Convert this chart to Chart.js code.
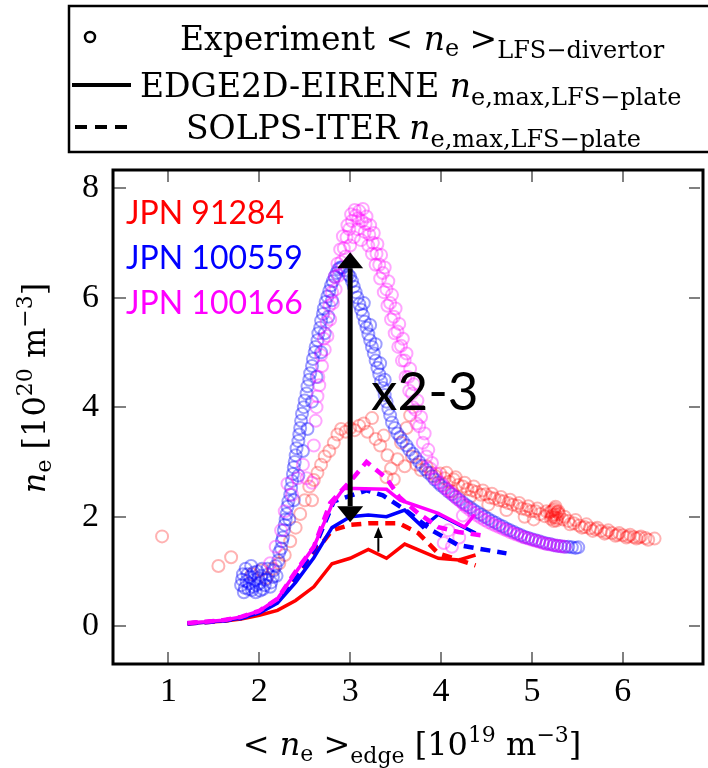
<!DOCTYPE html>
<html>
<head>
<meta charset="utf-8">
<script src="https://cdn.jsdelivr.net/npm/chart.js@4.4.1/dist/chart.umd.min.js"></script>
<style>
  html, body { margin: 0; padding: 0; background: #fff; }
</style>
</head>
<body>
<canvas id="myChart" width="708" height="768"></canvas>
<script>
// axis ticks
const xTicks = [1, 2, 3, 4, 5, 6];
const yTicks = [0, 2, 4, 6, 8];

// EDGE2D-EIRENE peak density at the LFS plate (solid)
const e2d91284X = [1.21, 1.4, 1.6, 1.8, 2.0, 2.2, 2.4, 2.6, 2.8, 3.0, 3.2, 3.4, 3.6, 3.97, 4.2, 4.38];
const e2d91284Y = [0.05, 0.07, 0.09, 0.13, 0.2, 0.29, 0.47, 0.72, 1.14, 1.24, 1.4, 1.24, 1.5, 1.24, 1.21, 1.3];
const e2d100559X = [1.21, 1.4, 1.6, 1.8, 2.0, 2.2, 2.4, 2.6, 2.8, 3.0, 3.2, 3.4, 3.6, 3.8, 3.97, 4.38];
const e2d100559Y = [0.05, 0.07, 0.1, 0.15, 0.24, 0.42, 0.8, 1.25, 1.8, 2.0, 2.03, 2.0, 2.12, 1.81, 2.04, 1.7];
const e2d100166X = [1.21, 1.4, 1.6, 1.8, 2.0, 2.2, 2.4, 2.6, 2.8, 2.93, 3.4, 3.55, 3.97, 4.26, 4.37];
const e2d100166Y = [0.06, 0.08, 0.11, 0.17, 0.28, 0.5, 0.98, 1.45, 2.22, 2.52, 2.5, 2.3, 2.06, 1.81, 2.04];

// SOLPS-ITER peak density at the LFS plate (dashed)
const solps91284X = [1.21, 1.4, 1.6, 1.8, 2.0, 2.2, 2.4, 2.6, 2.8, 3.0, 3.2, 3.54, 3.75, 3.97, 4.38];
const solps91284Y = [0.05, 0.07, 0.1, 0.15, 0.25, 0.45, 0.85, 1.32, 1.75, 1.85, 1.88, 1.88, 1.7, 1.33, 1.11];
const solps100559X = [1.21, 1.4, 1.6, 1.8, 2.0, 2.2, 2.4, 2.6, 2.82, 3.18, 3.36, 3.61, 3.9, 4.19, 4.72];
const solps100559Y = [0.05, 0.07, 0.1, 0.15, 0.26, 0.47, 0.9, 1.4, 2.28, 2.48, 2.39, 2.12, 1.75, 1.48, 1.33];
const solps100166X = [1.21, 1.4, 1.6, 1.8, 2.0, 2.2, 2.4, 2.6, 2.78, 3.04, 3.18, 3.4, 3.54, 3.75, 3.97, 4.19, 4.48];
const solps100166Y = [0.06, 0.08, 0.11, 0.17, 0.28, 0.5, 1.0, 1.45, 2.25, 2.72, 3.0, 2.7, 2.36, 2.06, 1.81, 1.72, 1.65];

// measured <ne> in the LFS divertor, [x, y]
const exp91284 = [
  [0.93, 1.64], [1.55, 1.10], [1.69, 1.26],
  [1.92, 0.95], [2.02, 1.02], [2.08, 0.88], [2.15, 1.05], [2.22, 1.15], [2.28, 1.30],
  [2.34, 1.55], [2.40, 1.80], [2.45, 2.05], [2.50, 2.30], [2.55, 2.55], [2.60, 2.67], [2.58, 2.30],
  [2.64, 2.80], [2.68, 2.95], [2.72, 3.10], [2.77, 3.20], [2.82, 3.35], [2.86, 3.50], [2.90, 3.60],
  [2.95, 3.55], [3.00, 3.62], [3.05, 3.58], [3.10, 3.66], [3.15, 3.70], [3.19, 3.55], [3.24, 3.80],
  [3.28, 3.42], [3.33, 3.30], [3.37, 3.48], [3.41, 3.12], [3.45, 2.88], [3.40, 2.72], [3.48, 2.68],
  [3.52, 3.05], [3.56, 3.35], [3.62, 3.62], [3.66, 3.85], [3.60, 2.92], [3.68, 3.10], [3.73, 2.95],
  [3.78, 2.85], [3.84, 2.92], [3.89, 2.80], [3.94, 2.74], [3.99, 2.79], [4.04, 2.70], [4.09, 2.64],
  [4.14, 2.68], [4.19, 2.58], [4.24, 2.55], [4.29, 2.50], [4.34, 2.48], [4.39, 2.45], [4.44, 2.40],
  [4.49, 2.41], [4.54, 2.35], [4.59, 2.33], [4.64, 2.30], [4.69, 2.28], [4.74, 2.25], [4.79, 2.22],
  [4.84, 2.20], [4.89, 2.15], [4.94, 2.13], [4.99, 2.10], [5.04, 2.10], [5.09, 2.05], [5.14, 2.01],
  [4.12, 2.46], [4.32, 2.36], [4.52, 2.22], [4.72, 2.12], [4.92, 2.00], [5.02, 1.95],
  [4.06, 2.80], [4.16, 2.72], [4.26, 2.62], [4.36, 2.55], [4.46, 2.48], [4.56, 2.42], [4.66, 2.36],
  [4.76, 2.31], [4.86, 2.25], [4.96, 2.19], [5.06, 2.15], [5.16, 2.10],
  [5.20, 2.08], [5.22, 2.00], [5.24, 2.12], [5.26, 2.04], [5.28, 1.97], [5.30, 2.05], [5.25, 2.15],
  [5.27, 1.93], [5.23, 2.03], [5.29, 2.10], [5.21, 1.96], [5.22, 2.10], [5.25, 1.99], [5.28, 2.08],
  [5.26, 2.18], [5.24, 1.92],
  [5.34, 1.95], [5.40, 1.92], [5.46, 1.88], [5.52, 1.84], [5.58, 1.81], [5.64, 1.79], [5.70, 1.77],
  [5.76, 1.74], [5.82, 1.71], [5.88, 1.70], [5.94, 1.67], [6.00, 1.66], [6.06, 1.64], [6.12, 1.63],
  [6.18, 1.62], [6.25, 1.61], [6.35, 1.60],
  [5.36, 2.00], [5.48, 1.94], [5.60, 1.86], [5.72, 1.80], [5.84, 1.75], [5.96, 1.70], [6.08, 1.67],
  [6.20, 1.64], [5.42, 1.86], [5.55, 1.80], [5.67, 1.74], [5.80, 1.69], [5.92, 1.65], [6.04, 1.62],
  [6.15, 1.60], [6.28, 1.58]
];
const exp100559 = [
  [1.80, 0.75], [1.82, 0.95], [1.83, 0.62], [1.85, 1.05], [1.86, 0.82], [1.88, 0.68], [1.90, 0.90],
  [1.91, 1.10], [1.93, 0.72], [1.95, 0.85], [1.96, 0.62], [1.98, 1.00], [2.00, 0.78], [2.02, 0.92],
  [2.04, 0.68], [2.07, 0.85], [2.10, 0.95], [2.13, 0.80], [2.16, 1.02], [2.19, 0.92],
  [1.81, 0.85], [1.84, 0.70], [1.87, 0.95], [1.89, 0.78], [1.92, 0.66], [1.94, 0.98], [1.97, 0.75],
  [1.99, 0.88], [2.01, 0.65], [2.03, 1.05], [2.06, 0.75], [2.09, 1.05], [2.12, 0.72], [2.15, 0.90],
  [2.18, 1.10],
  [2.21, 1.20], [2.24, 1.42], [2.26, 1.62], [2.28, 1.85], [2.30, 2.05], [2.32, 2.28], [2.35, 2.52],
  [2.37, 2.78], [2.39, 3.00], [2.41, 3.25], [2.44, 3.50], [2.46, 3.75], [2.49, 4.00], [2.52, 4.25],
  [2.55, 4.50], [2.58, 4.75], [2.61, 5.00], [2.64, 5.22], [2.67, 5.45], [2.70, 5.70], [2.73, 5.92],
  [2.77, 6.12], [2.81, 6.30], [2.85, 6.45], [2.89, 6.55], [2.94, 6.50], [2.98, 6.42],
  [2.22, 1.35], [2.25, 1.55], [2.27, 1.75], [2.29, 1.95], [2.31, 2.18], [2.34, 2.40], [2.36, 2.65],
  [2.38, 2.90], [2.40, 3.12], [2.43, 3.38], [2.45, 3.62], [2.47, 3.88], [2.50, 4.12], [2.53, 4.38],
  [2.56, 4.62], [2.59, 4.88], [2.62, 5.10], [2.65, 5.35], [2.68, 5.58], [2.71, 5.80], [2.75, 6.02],
  [2.79, 6.22], [2.83, 6.38], [2.87, 6.52], [2.91, 6.55],
  [2.33, 1.95], [2.38, 2.30], [2.43, 2.75], [2.48, 3.20], [2.53, 3.60], [2.58, 4.10], [2.63, 4.55],
  [2.68, 5.00], [2.72, 5.35], [2.76, 5.65], [2.80, 5.95],
  [3.02, 6.30], [3.06, 6.10], [3.10, 5.88], [3.14, 5.68], [3.18, 5.45], [3.22, 5.22], [3.26, 4.98],
  [3.30, 4.72], [3.34, 4.47], [3.38, 4.22], [3.42, 3.97], [3.46, 3.72], [3.52, 3.52], [3.58, 3.38],
  [3.65, 3.22], [3.72, 3.08], [3.79, 2.93], [3.86, 2.80], [3.93, 2.68], [4.00, 2.57], [4.08, 2.46],
  [4.16, 2.36], [4.24, 2.26], [4.32, 2.17], [4.40, 2.08], [4.48, 2.00], [4.56, 1.92], [4.64, 1.85],
  [4.72, 1.78], [4.80, 1.72], [4.88, 1.66], [4.96, 1.61], [5.04, 1.57], [5.12, 1.53], [5.20, 1.50],
  [5.28, 1.47], [5.36, 1.45], [5.44, 1.44], [5.51, 1.44],
  [3.00, 6.38], [3.04, 6.20], [3.08, 6.00], [3.12, 5.78], [3.16, 5.56], [3.20, 5.33], [3.24, 5.10],
  [3.28, 4.85], [3.32, 4.60], [3.36, 4.35], [3.40, 4.10], [3.44, 3.85], [3.49, 3.62], [3.55, 3.45],
  [3.62, 3.30], [3.69, 3.15], [3.76, 3.00], [3.83, 2.86], [3.90, 2.74], [3.97, 2.62], [4.04, 2.52],
  [4.12, 2.41], [4.20, 2.31], [4.28, 2.21], [4.36, 2.12], [4.44, 2.04], [4.52, 1.96], [4.60, 1.89],
  [4.68, 1.82], [4.76, 1.75], [4.84, 1.69], [4.92, 1.63], [5.00, 1.59], [5.08, 1.55], [5.16, 1.51],
  [5.24, 1.48], [5.32, 1.46], [5.40, 1.45], [5.48, 1.43],
  [3.15, 5.90], [3.22, 5.50], [3.28, 5.15], [3.33, 4.80], [3.38, 4.50]
];
const exp100166 = [
  [2.12, 1.15], [2.18, 1.45], [2.24, 1.75], [2.28, 2.10], [2.31, 2.60], [2.36, 2.40], [2.42, 2.70],
  [2.48, 2.95], [2.52, 2.70], [2.58, 2.62], [2.60, 3.30],
  [2.62, 3.75], [2.64, 4.20], [2.66, 4.40], [2.69, 4.75], [2.72, 5.05], [2.75, 5.30], [2.78, 5.60],
  [2.81, 5.90], [2.84, 6.15], [2.87, 6.40], [2.90, 6.65], [2.93, 6.90], [2.96, 7.10], [2.99, 7.25],
  [3.02, 7.40], [3.06, 7.50], [3.10, 7.58], [3.14, 7.62], [3.18, 7.48], [3.22, 7.32], [3.26, 7.18],
  [3.30, 6.98], [3.34, 6.78], [3.38, 6.55], [3.42, 6.30], [3.46, 6.05], [3.50, 5.80], [3.54, 5.52],
  [3.58, 5.25], [3.62, 4.98], [3.66, 4.70], [3.70, 4.42], [3.74, 4.12], [3.78, 3.82], [3.82, 3.52],
  [3.86, 3.22], [3.90, 2.98], [3.95, 2.78],
  [2.95, 6.75], [3.00, 6.95], [3.04, 7.10], [3.08, 7.25], [3.12, 7.05], [3.16, 7.20], [3.20, 6.95],
  [3.24, 6.80], [3.28, 6.60], [3.33, 6.35], [3.37, 6.10], [3.41, 5.85], [3.45, 5.60], [3.49, 5.35],
  [3.53, 5.10], [3.57, 4.85], [3.61, 4.55], [3.65, 4.30], [3.69, 4.00], [3.73, 3.70],
  [2.63, 4.00], [2.65, 4.55], [2.68, 4.95], [2.71, 5.25], [2.74, 5.55], [2.77, 5.85], [2.80, 6.10],
  [2.83, 6.38], [2.86, 6.62], [2.89, 6.88], [2.92, 7.12], [2.97, 7.32], [3.01, 7.52], [3.05, 7.60],
  [3.09, 7.45], [3.13, 7.40], [3.17, 7.35], [3.21, 7.15], [3.25, 7.00], [3.29, 6.80], [3.32, 6.60],
  [3.36, 6.45], [3.40, 6.15], [3.44, 5.90], [3.48, 5.65], [3.52, 5.38], [3.56, 5.12], [3.60, 4.85],
  [3.64, 4.55], [3.68, 4.25], [3.72, 3.95], [3.76, 3.65], [3.80, 3.35], [3.84, 3.10], [3.88, 2.88],
  [3.93, 2.70],
  [4.00, 2.62], [4.06, 2.50], [4.12, 2.42], [4.18, 2.32], [4.25, 2.22], [4.32, 2.12], [4.40, 2.02],
  [4.48, 1.94], [4.56, 1.87], [4.64, 1.81], [4.72, 1.75], [4.80, 1.69], [4.88, 1.64], [4.96, 1.60],
  [5.04, 1.56], [5.12, 1.52], [5.20, 1.49], [5.28, 1.47], [5.36, 1.45],
  [4.03, 2.56], [4.09, 2.46], [4.15, 2.37], [4.22, 2.27], [4.28, 2.17], [4.36, 2.07], [4.44, 1.98],
  [4.52, 1.90], [4.60, 1.84], [4.68, 1.78], [4.76, 1.72], [4.84, 1.67], [4.92, 1.62], [5.00, 1.58],
  [5.08, 1.54], [5.16, 1.50], [5.24, 1.48], [5.32, 1.46],
  [4.03, 1.52], [4.12, 1.45], [4.20, 1.62], [4.24, 2.02], [4.08, 1.75]
];

// annotation arrows: [x, yTail, yTip]
const bigArrow = [3.0, 1.9, 6.83];
const smallArrow = [3.31, 1.36, 1.81];

const RED = '#ff0000', BLUE = '#0000ff', MAGENTA = '#ff00ff';
const SERIF = '"DejaVu Serif", serif';
const TICKFONT = '"Liberation Serif", "Times New Roman", serif';
const SANS = 'Lato, "Open Sans", sans-serif';
const rm = s => s + 'px ' + SERIF;
const it = s => 'italic ' + s + 'px ' + SERIF;

const toXY = (xs, ys) => xs.map((x, i) => ({ x: x, y: ys[i] }));
const pts = arr => arr.map(p => ({ x: p[0], y: p[1] }));

function lineSet(xs, ys, color, dashed) {
  return {
    data: toXY(xs, ys),
    showLine: true,
    borderColor: color,
    borderWidth: dashed ? 4.5 : 3.5,
    borderDash: dashed ? [10, 7] : [],
    pointRadius: 0,
    fill: false,
    tension: 0
  };
}
function scatterSet(arr, color) {
  return {
    data: pts(arr),
    showLine: false,
    pointStyle: 'circle',
    pointRadius: 6,
    pointBorderWidth: 2,
    pointBorderColor: color,
    pointBackgroundColor: 'rgba(0,0,0,0)'
  };
}

function drawRich(ctx, parts, x, y) {
  let cx = x;
  parts.forEach(p => {
    ctx.font = p[1];
    ctx.fillText(p[0], cx, y + (p[2] || 0));
    cx += ctx.measureText(p[0]).width;
  });
  return cx - x;
}
function richWidth(ctx, parts) {
  let w = 0;
  parts.forEach(p => { ctx.font = p[1]; w += ctx.measureText(p[0]).width; });
  return w;
}

// vertical arrow, head at yTip (and at yTail too when both is set)
function vArrow(ctx, x, yTail, yTip, shaftW, headW, headL, both) {
  const dir = yTip < yTail ? -1 : 1;
  ctx.strokeStyle = '#000';
  ctx.fillStyle = '#000';
  ctx.lineWidth = shaftW;
  ctx.beginPath();
  ctx.moveTo(x, both ? yTail + dir * headL : yTail);
  ctx.lineTo(x, yTip - dir * headL);
  ctx.stroke();
  const head = (tip, d) => {
    ctx.beginPath();
    ctx.moveTo(x, tip);
    ctx.lineTo(x - headW / 2, tip - d * headL);
    ctx.lineTo(x + headW / 2, tip - d * headL);
    ctx.closePath();
    ctx.fill();
  };
  head(yTip, dir);
  if (both) head(yTail, -dir);
}

const decorations = {
  id: 'decorations',
  afterDatasetsDraw(chart) {
    const ctx = chart.ctx;
    const xs = chart.scales.x, ys = chart.scales.y;
    ctx.save();
    vArrow(ctx, xs.getPixelForValue(bigArrow[0]), ys.getPixelForValue(bigArrow[1]),
      ys.getPixelForValue(bigArrow[2]), 5, 26, 16, true);
    vArrow(ctx, xs.getPixelForValue(smallArrow[0]), ys.getPixelForValue(smallArrow[1]),
      ys.getPixelForValue(smallArrow[2]), 2, 9, 11, false);

    ctx.textBaseline = 'middle';
    ctx.textAlign = 'left';
    ctx.font = '32px ' + SANS;
    ctx.fillStyle = RED; ctx.fillText('JPN 91284', 126, 214);
    ctx.fillStyle = BLUE; ctx.fillText('JPN 100559', 126, 259);
    ctx.fillStyle = MAGENTA; ctx.fillText('JPN 100166', 126, 304);
    ctx.fillStyle = '#000';
    ctx.font = '53px ' + SANS;
    ctx.fillText('x2-3', 371, 393);
    ctx.restore();
  },
  afterDraw(chart) {
    const ctx = chart.ctx;
    const a = chart.chartArea;
    const xs = chart.scales.x, ys = chart.scales.y;
    ctx.save();

    // inward tick marks on every side
    ctx.strokeStyle = '#808080';
    ctx.lineWidth = 2;
    ctx.beginPath();
    xTicks.forEach(v => {
      const px = Math.round(xs.getPixelForValue(v));
      ctx.moveTo(px, a.bottom); ctx.lineTo(px, a.bottom - 12);
      ctx.moveTo(px, a.top); ctx.lineTo(px, a.top + 12);
    });
    yTicks.forEach(v => {
      const py = Math.round(ys.getPixelForValue(v));
      ctx.moveTo(a.left, py); ctx.lineTo(a.left + 13, py);
      ctx.moveTo(a.right, py); ctx.lineTo(a.right - 11, py);
    });
    ctx.stroke();

    // frame
    ctx.strokeStyle = '#000';
    ctx.lineWidth = 3;
    ctx.strokeRect(a.left, a.top, a.right - a.left + 3, a.bottom - a.top);

    // legend box
    ctx.lineWidth = 2.5;
    ctx.strokeRect(69, 6, 660, 146);
    ctx.fillStyle = '#000';
    ctx.beginPath();
    ctx.arc(90, 37, 5, 0, Math.PI * 2);
    ctx.stroke();
    ctx.lineWidth = 4;
    ctx.beginPath();
    ctx.moveTo(72, 85); ctx.lineTo(131, 85);
    ctx.stroke();
    ctx.setLineDash([12, 8]);
    ctx.beginPath();
    ctx.moveTo(75, 127); ctx.lineTo(131, 127);
    ctx.stroke();
    ctx.setLineDash([]);

    ctx.textBaseline = 'alphabetic';
    ctx.textAlign = 'left';
    drawRich(ctx, [['Experiment < ', rm(33)], ['n', it(33)], ['e', rm(24), 6], [' >', rm(33)],
      ['LFS\u2212divertor', rm(24), 8]], 180, 50);
    drawRich(ctx, [['EDGE2D-EIRENE ', rm(33)], ['n', it(33)], ['e,max,LFS\u2212plate', rm(24), 8]], 140, 97);
    drawRich(ctx, [['SOLPS-ITER ', rm(33)], ['n', it(33)], ['e,max,LFS\u2212plate', rm(24), 8]], 186, 139);

    // axis titles
    const xt = [['< ', rm(32)], ['n', it(32)], ['e', rm(22), 6], [' >', rm(32)], ['edge', rm(22), 8],
      [' [10', rm(32)], ['19', rm(22), -13], [' m', rm(32)], ['\u22123', rm(22), -13], [']', rm(32)]];
    drawRich(ctx, xt, 412 - richWidth(ctx, xt) / 2, 755);

    const yt = [['n', it(32)], ['e', rm(22), 6], [' [10', rm(32)], ['20', rm(22), -13], [' m', rm(32)],
      ['\u22123', rm(22), -13], [']', rm(32)]];
    ctx.translate(45, 388);
    ctx.rotate(-Math.PI / 2);
    drawRich(ctx, yt, -richWidth(ctx, yt) / 2, 0);
    ctx.restore();
  }
};

const ctx = document.getElementById('myChart');

new Chart(ctx, {
  type: 'scatter',
  data: {
    datasets: [
      lineSet(e2d100166X, e2d100166Y, MAGENTA, false),
      lineSet(solps100166X, solps100166Y, MAGENTA, true),
      lineSet(e2d100559X, e2d100559Y, BLUE, false),
      lineSet(solps100559X, solps100559Y, BLUE, true),
      lineSet(e2d91284X, e2d91284Y, RED, false),
      lineSet(solps91284X, solps91284Y, RED, true),
      scatterSet(exp100166, 'rgba(255, 0, 255, 0.35)'),
      scatterSet(exp100559, 'rgba(0, 0, 255, 0.38)'),
      scatterSet(exp91284, 'rgba(255, 0, 0, 0.3)')
    ]
  },
  options: {
    responsive: false,
    animation: false,
    devicePixelRatio: 1,
    layout: { padding: { top: 170, right: 0, left: 0, bottom: 0 } },
    plugins: { legend: { display: false }, tooltip: { enabled: false } },
    scales: {
      x: {
        type: 'linear',
        min: 0.39,
        max: 6.85,
        grid: { display: false, drawTicks: false },
        border: { display: false },
        afterFit: s => { s.height = 104; },
        afterBuildTicks: s => { s.ticks = xTicks.map(v => ({ value: v })); },
        ticks: { color: '#000', padding: 8, font: { family: TICKFONT, size: 34 } }
      },
      y: {
        type: 'linear',
        min: -0.69,
        max: 8.33,
        grid: { display: false, drawTicks: false },
        border: { display: false },
        afterFit: s => { s.width = 113; },
        afterBuildTicks: s => { s.ticks = yTicks.map(v => ({ value: v })); },
        ticks: { color: '#000', padding: 14, font: { family: TICKFONT, size: 34 } }
      }
    }
  },
  plugins: [decorations]
});
</script>
</body>
</html>
